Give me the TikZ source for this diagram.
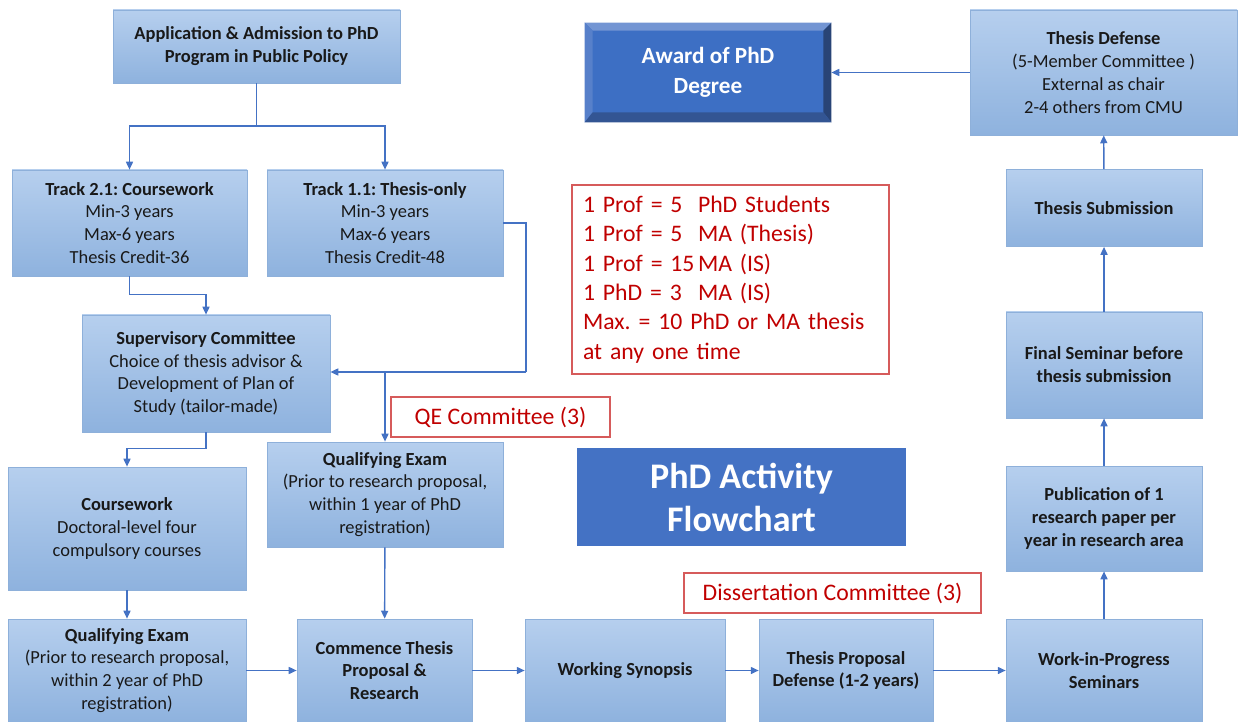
\documentclass[tikz,border=0pt]{standalone}
\usepackage{fontspec}
\setmainfont{Carlito}
\usetikzlibrary{arrows.meta}
\frenchspacing

\definecolor{boxtop}{HTML}{B6CFEE}
\definecolor{boxbot}{HTML}{8EB2DE}
\definecolor{boxline}{HTML}{8EB0DA}
\definecolor{flow}{HTML}{4472C4}
\definecolor{note}{HTML}{C00000}
\definecolor{noteline}{HTML}{D65B5B}
\definecolor{awardface}{HTML}{3D6FC4}

\begin{document}
\begin{tikzpicture}[x=0.02cm,y=-0.02cm,
    sz/.style 2 args={minimum width=#1*0.02cm,minimum height=#2*0.02cm},
    stage/.style={draw=boxline,top color=boxtop,bottom color=boxbot,align=center,
      inner sep=2pt,text=black!90,font=\fontsize{10.5}{13}\selectfont},
    memo/.style={draw=noteline,line width=0.6pt,text=note,inner sep=0pt,
      font=\fontsize{13.5}{16.7}\selectfont},
    arr/.style={draw=flow,line width=0.8pt,-{Triangle[length=4.5pt,width=4pt]}},
    ln/.style={draw=flow,line width=0.8pt}]
  \useasboundingbox (0,0) rectangle (1239,722);

  % left and middle columns
  \node[stage,sz={287}{73}]  (app) at (256.5,46.5) {\textbf{Application \& Admission to PhD}\\\textbf{Program in Public Policy}};
  \node[stage,sz={235}{106}] (t21) at (129.5,223)  {\textbf{Track 2.1: Coursework}\\Min-3 years\\Max-6 years\\Thesis Credit-36};
  \node[stage,sz={236}{106}] (t11) at (385,223)    {\textbf{Track 1.1: Thesis-only}\\Min-3 years\\Max-6 years\\Thesis Credit-48};
  \node[stage,sz={248}{117}] (sup) at (206,373.5)  {\textbf{Supervisory Committee}\\Choice of thesis advisor \&\\Development of Plan of\\Study (tailor-made)};
  \node[stage,sz={238}{123}] (cw)  at (127,528.5)  {\textbf{Coursework}\\Doctoral-level four\\compulsory courses};
  \node[stage,sz={236}{105}] (qe1) at (385,494.5)  {\textbf{Qualifying Exam}\\(Prior to research proposal,\\within 1 year of PhD\\registration)};
  \node[stage,sz={238}{103}] (qe2) at (127,670.5)  {\textbf{Qualifying Exam}\\(Prior to research proposal,\\within 2 year of PhD\\registration)};

  % bottom row
  \node[stage,sz={175}{103}] (com) at (384.5,670.5) {\textbf{Commence Thesis}\\\textbf{Proposal \&}\\\textbf{Research}};
  \node[stage,sz={200}{103}] (syn) at (625,670.5)   {\textbf{Working Synopsis}};
  \node[stage,sz={174}{103}] (tpd) at (846,670.5)   {\textbf{Thesis Proposal}\\\textbf{Defense (1-2 years)}};
  \node[stage,sz={196}{103}] (wip) at (1104,670.5)  {\textbf{Work-in-Progress}\\\textbf{Seminars}};

  % right column
  \node[stage,sz={196}{105}] (pub) at (1104,518.5) {\textbf{Publication of 1}\\\textbf{research paper per}\\\textbf{year in research area}};
  \node[stage,sz={196}{106}] (fin) at (1104,365)   {\textbf{Final Seminar before}\\\textbf{thesis submission}};
  \node[stage,sz={196}{77}]  (sub) at (1104,208)   {\textbf{Thesis Submission}};
  \node[stage,sz={267}{125}] (def) at (1103.5,72.5) {\textbf{Thesis Defense}\\(5-Member Committee )\\External as chair\\2-4 others from CMU};

  % award with bevelled edge
  \node[fill=awardface,sz={246}{99},text=white,align=center,
        font=\bfseries\fontsize{13.2}{17}\selectfont] (award) at (708,72.5) {Award of PhD\\Degree};
  \fill[flow!75!white] (award.north west) -- (award.north east) -- ([shift={(-8,8)}]award.north east) -- ([shift={(8,8)}]award.north west) -- cycle;
  \fill[flow!90!white] (award.north west) -- ([shift={(8,8)}]award.north west) -- ([shift={(8,-10)}]award.south west) -- (award.south west) -- cycle;
  \fill[flow!60!black] (award.north east) -- ([shift={(-8,8)}]award.north east) -- ([shift={(-8,-10)}]award.south east) -- (award.south east) -- cycle;
  \fill[flow!75!black] (award.south west) -- ([shift={(8,-10)}]award.south west) -- ([shift={(-8,-10)}]award.south east) -- (award.south east) -- cycle;

  % title and notes
  \node[fill=flow,sz={329}{98},text=white,align=center,
        font=\bfseries\fontsize{20.5}{24.5}\selectfont] (title) at (741.5,497) {PhD Activity\\Flowchart};
  \node[memo,sz={317}{189},inner xsep=0.22cm,text width=5.9cm,align=left] (ratio) at (730.5,279.5)
    {\makebox[2.3cm][l]{1 Prof = 5}PhD Students\\
     \makebox[2.3cm][l]{1 Prof = 5}MA (Thesis)\\
     \makebox[2.3cm][l]{1 Prof = 15}MA (IS)\\
     \makebox[2.3cm][l]{1 PhD = 3}MA (IS)\\
     Max. = 10 PhD or MA thesis\\
     at any one time};
  \node[memo,sz={219}{40}] (qec) at (500.5,417) {QE Committee (3)};
  \node[memo,sz={297}{40}] (dc)  at (832.5,593) {Dissertation Committee (3)};

  % connectors
  \coordinate (split) at (256.5,126);
  \coordinate (tjoin) at (526,372);
  \coordinate (fork)  at (385,372);
  \draw[ln]  (app) -- (split);
  \draw[arr] (split) -| (t21);
  \draw[arr] (split) -| (t11);
  \draw[arr] (t21.south) -- ++(0,18) -| (sup);
  \draw[ln]  (t11.east) -| (tjoin);
  \draw[arr] (tjoin) -- (sup.east |- tjoin);
  \draw[arr] (fork) -- (qe1);
  \draw[arr] (sup.south) -- ++(0,16) -| (cw);
  \draw[arr] (cw) -- (qe2);
  \draw[arr] (qe1) -- (com);
  \draw[arr] (qe2) -- (com);
  \draw[arr] (com) -- (syn);
  \draw[arr] (syn) -- (tpd);
  \draw[arr] (tpd) -- (wip);
  \draw[arr] (wip) -- (pub);
  \draw[arr] (pub) -- (fin);
  \draw[arr] (fin) -- (sub);
  \draw[arr] (sub) -- (def);
  \draw[arr] (def) -- (award);
\end{tikzpicture}
\end{document}
